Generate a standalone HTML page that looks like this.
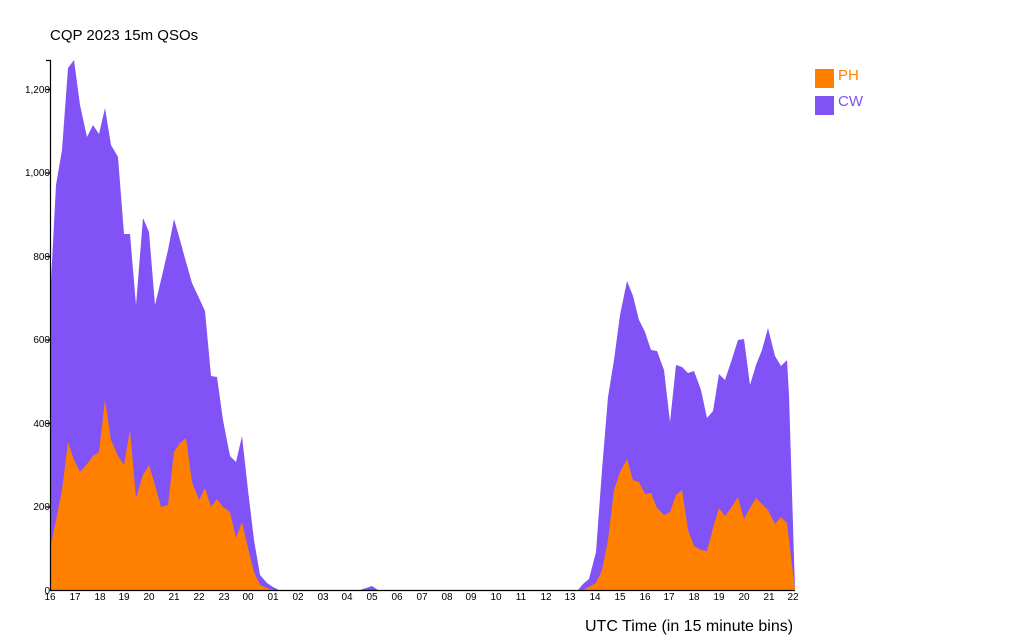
<!DOCTYPE html>
<html><head><style>body{margin:0;background:#fff}svg{display:block}text{font-family:"Liberation Sans",sans-serif}</style></head>
<body>
<svg width="1024" height="640" viewBox="0 0 1024 640">
<text x="50" y="40" font-size="15" fill="#000">CQP 2023 15m QSOs</text>
<polygon fill="#8152f6" points="50,590 50,300 56,185 62,150 68,68 74,60 80,105 87,137 93,125 99,134 105,108 111,145 118,157 124,234 130,234 136,305 143,218 149,232 155,305 161,280 168,250 174,219 180,240 186,262 192,283 199,298 205,311 211,376 217,377 223,420 230,456 236,462 242,436 248,490 254,540 260,575 267,583 273,587 279,590 360,590 366,588 372,586 378,590"/>
<polygon fill="#8152f6" points="578,590 583,584 589,579 596,552 602,470 608,397 614,360 620,315 627,281 633,296 639,320 645,332 651,350 657,351 664,370 670,422 676,365 682,367 688,373 694,371 701,390 707,418 713,411 719,374 725,380 731,362 738,340 744,339 750,385 756,365 762,350 768,328 775,356 781,366 787,360 789,395 795,590"/>
<polygon fill="#ff8000" points="50,590 50,550 56,520 62,490 68,442 74,460 80,472 87,464 93,456 99,452 105,400 111,440 118,456 124,465 130,430 136,498 143,475 149,465 155,485 161,507 168,505 174,452 180,443 186,438 192,482 199,500 205,488 211,507 217,499 223,507 230,512 236,538 242,522 248,548 254,572 260,585 267,588 273,590"/>
<polygon fill="#ff8000" points="583,590 596,583 602,570 608,540 614,490 620,472 627,459 633,480 639,482 645,494 651,493 657,508 664,515 670,512 676,495 682,490 688,530 694,546 701,550 707,551 713,528 719,508 725,516 731,508 738,497 744,519 750,508 756,498 762,504 768,510 775,524 781,517 787,523 795,590"/>
<g stroke="#000" stroke-width="1.2" fill="none">
<path d="M46,60.5H50.5V590.5H795"/>
<path d="M46,89.5H50M46,173H50M46,256.5H50M46,340H50M46,423.5H50M46,507H50"/>
</g>
<g font-size="10" fill="#000" text-anchor="end">
<text x="50" y="93">1,200</text><text x="50" y="176">1,000</text><text x="50" y="260">800</text><text x="50" y="343">600</text><text x="50" y="427">400</text><text x="50" y="510">200</text><text x="50" y="594">0</text>
</g>
<g font-size="10" fill="#000" text-anchor="middle">
<text x="50" y="600">16</text><text x="75" y="600">17</text><text x="100" y="600">18</text><text x="124" y="600">19</text><text x="149" y="600">20</text><text x="174" y="600">21</text><text x="199" y="600">22</text><text x="224" y="600">23</text><text x="248" y="600">00</text><text x="273" y="600">01</text><text x="298" y="600">02</text><text x="323" y="600">03</text><text x="347" y="600">04</text><text x="372" y="600">05</text><text x="397" y="600">06</text><text x="422" y="600">07</text><text x="447" y="600">08</text><text x="471" y="600">09</text><text x="496" y="600">10</text><text x="521" y="600">11</text><text x="546" y="600">12</text><text x="570" y="600">13</text><text x="595" y="600">14</text><text x="620" y="600">15</text><text x="645" y="600">16</text><text x="669" y="600">17</text><text x="694" y="600">18</text><text x="719" y="600">19</text><text x="744" y="600">20</text><text x="769" y="600">21</text><text x="793" y="600">22</text>
</g>
<text x="585" y="631" font-size="16" fill="#000">UTC Time (in 15 minute bins)</text>
<rect x="815" y="69" width="19" height="19" fill="#ff8000"/>
<text x="838" y="80" font-size="15" fill="#ff8000">PH</text>
<rect x="815" y="96" width="19" height="19" fill="#8152f6"/>
<text x="838" y="106" font-size="15" fill="#8152f6">CW</text>
</svg>
</body></html>
